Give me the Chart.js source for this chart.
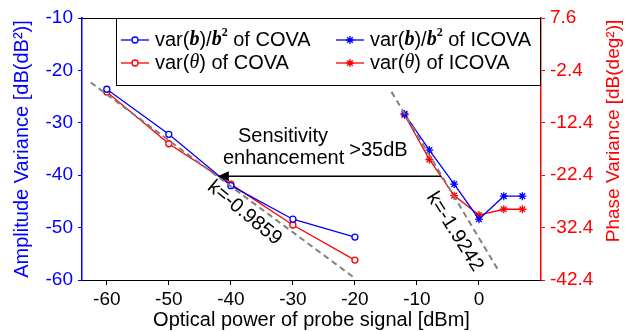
<!DOCTYPE html>
<html>
<head>
<meta charset="utf-8">
<script src="https://cdn.jsdelivr.net/npm/chart.js@4"></script>
<style>
  html, body { margin: 0; padding: 0; background: #fff; }
</style>
</head>
<body>
<canvas id="c" width="625" height="332"></canvas>
<script>
// data
const covaX = [-60, -50, -40, -30, -20];
const covaAmp = [-23.6, -32.2, -42.0, -48.4, -51.8];
const covaPhase = [-6.5, -16.4, -24.1, -31.9, -38.6];
const icovaX = [-12, -8, -4, 0, 4, 7];
const icovaAmp = [-28.3, -35.2, -41.7, -48.4, -44.0, -44.0];
const icovaPhase = [-10.9, -19.4, -26.3, -30.0, -28.9, -28.9];
const fit1X = [-62.6, -20.3];
const fit1Y = [-22.3, -59.4];
const fit2X = [-14.1, 3.1];
const fit2Y = [-24.1, -58.1];
const xTicks = [-60, -50, -40, -30, -20, -10, 0];
const ampTicks = [-10, -20, -30, -40, -50, -60];
const phaseTicks = [7.6, -2.4, -12.4, -22.4, -32.4, -42.4];

const BLUE = '#0000ff';
const RED = '#ff0000';
const SANS = 'Liberation Sans, Arial, sans-serif';
const SERIF = 'Liberation Serif, Times New Roman, serif';
const FS = 20;

const pts = (xs, ys) => xs.map((x, i) => ({ x: x, y: ys[i] }));

function setTicks(list) {
  return scale => { scale.ticks = list.map(v => ({ value: v })); };
}

// text with mixed fonts, left aligned, vertically centred on y
function drawRich(ctx, parts, x, y) {
  ctx.textBaseline = 'middle';
  ctx.textAlign = 'left';
  parts.forEach(p => {
    ctx.font = p.f;
    ctx.fillText(p.t, x, y + (p.dy || 0));
    x += ctx.measureText(p.t).width;
  });
}

const extras = {
  id: 'extras',
  afterDraw(chart) {
    const ctx = chart.ctx;
    const a = chart.chartArea;
    const sx = chart.scales.x, sy = chart.scales.y;
    ctx.save();

    // top frame line
    ctx.strokeStyle = '#000';
    ctx.lineWidth = 1;
    ctx.beginPath();
    ctx.moveTo(a.left, a.top + 0.5);
    ctx.lineTo(a.right, a.top + 0.5);
    ctx.stroke();

    // right axis title, reads bottom to top
    ctx.save();
    ctx.fillStyle = RED;
    ctx.font = '19px ' + SANS;
    ctx.textAlign = 'center';
    ctx.textBaseline = 'middle';
    ctx.translate(614, 131);
    ctx.rotate(-Math.PI / 2);
    ctx.fillText('Phase Variance [dB(deg²)]', 0, 0);
    ctx.restore();

    // arrow
    const ax1 = sx.getPixelForValue(-6.1);
    const ax2 = sx.getPixelForValue(-42.1);
    const ay = sy.getPixelForValue(-40.2);
    ctx.lineWidth = 1.5;
    ctx.beginPath();
    ctx.moveTo(ax1, ay);
    ctx.lineTo(ax2 + 10, ay);
    ctx.stroke();
    ctx.fillStyle = '#000';
    ctx.beginPath();
    ctx.moveTo(ax2, ay);
    ctx.lineTo(ax2 + 11, ay - 5);
    ctx.lineTo(ax2 + 11, ay + 5);
    ctx.closePath();
    ctx.fill();

    // annotation texts
    ctx.font = FS + 'px ' + SANS;
    ctx.textAlign = 'center';
    ctx.textBaseline = 'middle';
    ctx.fillText('Sensitivity', sx.getPixelForValue(-31.6), sy.getPixelForValue(-32.7));
    ctx.fillText('enhancement', sx.getPixelForValue(-31.5), sy.getPixelForValue(-36.9));
    ctx.fillText('>35dB', sx.getPixelForValue(-16.2), sy.getPixelForValue(-35.3));

    const rot = (t, x, y, deg) => {
      ctx.save();
      ctx.translate(sx.getPixelForValue(x), sy.getPixelForValue(y));
      ctx.rotate(deg * Math.PI / 180);
      ctx.fillText(t, 0, 0);
      ctx.restore();
    };
    rot('k=-0.9859', -37.8, -47.2, 39.6);
    rot('k=-1.9242', -3.9, -50.8, 57.8);

    // legend box
    const lx = 116, ly = a.top, lw = a.right - 116, lh = 67;
    ctx.strokeStyle = '#000';
    ctx.lineWidth = 1;
    ctx.strokeRect(lx + 0.5, ly + 0.5, lw - 1, lh);

    const sample = (x, y, color, style) => {
      ctx.strokeStyle = color;
      ctx.lineWidth = 1.3;
      ctx.beginPath();
      ctx.moveTo(x, y);
      ctx.lineTo(x + 28, y);
      ctx.stroke();
      Chart.helpers.drawPoint(ctx, {
        pointStyle: style, radius: style === 'star' ? 4 : 3, borderWidth: 1.3
      }, x + 14, y);
    };
    const f = FS + 'px ' + SANS;
    const fb = 'bold italic ' + FS + 'px ' + SERIF;
    const fs = 'bold 12px ' + SERIF;
    const ft = 'italic ' + FS + 'px ' + SERIF;
    const ampParts = (tail) => [
      { t: 'var(', f: f }, { t: 'b', f: fb }, { t: ')/', f: f },
      { t: 'b', f: fb }, { t: '2', f: fs, dy: -7 }, { t: ' of ' + tail, f: f }
    ];
    const phParts = (tail) => [
      { t: 'var(', f: f }, { t: 'θ', f: ft }, { t: ') of ' + tail, f: f }
    ];
    const rows = [40, 63];
    const cols = [121, 336];
    const entries = [
      [cols[0], rows[0], BLUE, 'circle', ampParts('COVA')],
      [cols[1], rows[0], BLUE, 'star', ampParts('ICOVA')],
      [cols[0], rows[1], RED, 'circle', phParts('COVA')],
      [cols[1], rows[1], RED, 'star', phParts('ICOVA')]
    ];
    entries.forEach(e => {
      ctx.fillStyle = '#fff';
      sample(e[0], e[1], e[2], e[3]);
      ctx.fillStyle = '#000';
      drawRich(ctx, e[4], e[0] + 34, e[1]);
    });
    ctx.restore();
  }
};

const lineDs = (label, data, color, style, axis) => ({
  label: label,
  data: data,
  yAxisID: axis,
  borderColor: color,
  backgroundColor: style === 'circle' ? '#fff' : color,
  borderWidth: 1.3,
  pointStyle: style,
  pointRadius: style === 'star' ? 4 : 3,
  pointBorderWidth: 1.3,
  pointBorderColor: color,
  fill: false,
  tension: 0
});

new Chart(document.getElementById('c'), {
  type: 'line',
  data: {
    datasets: [
      { label: 'fit1', data: pts(fit1X, fit1Y), yAxisID: 'y', borderColor: '#808080',
        borderDash: [6, 4], borderWidth: 2, pointRadius: 0, fill: false },
      { label: 'fit2', data: pts(fit2X, fit2Y), yAxisID: 'y', borderColor: '#808080',
        borderDash: [6, 4], borderWidth: 2, pointRadius: 0, fill: false },
      lineDs('var(b)/b2 of COVA', pts(covaX, covaAmp), BLUE, 'circle', 'y'),
      lineDs('var(θ) of COVA', pts(covaX, covaPhase), RED, 'circle', 'y2'),
      lineDs('var(b)/b2 of ICOVA', pts(icovaX, icovaAmp), BLUE, 'star', 'y'),
      lineDs('var(θ) of ICOVA', pts(icovaX, icovaPhase), RED, 'star', 'y2')
    ]
  },
  options: {
    responsive: false,
    animation: false,
    layout: { padding: { top: 18, left: 0, right: 0, bottom: 0 } },
    plugins: { legend: { display: false }, tooltip: { enabled: false } },
    scales: {
      x: {
        type: 'linear', min: -64, max: 10,
        afterBuildTicks: setTicks(xTicks),
        afterFit: s => { s.height = 52; },
        grid: { drawOnChartArea: false, drawTicks: true, tickLength: 5, tickColor: '#000' },
        border: { color: '#000', width: 1 },
        ticks: { color: '#000', font: { family: SANS, size: 19 }, padding: 3, maxRotation: 0 },
        title: { display: true, text: 'Optical power of probe signal [dBm]', color: '#000',
          font: { family: SANS, size: FS }, padding: { top: 0, bottom: 0 } }
      },
      y: {
        type: 'linear', position: 'left', min: -60, max: -10,
        afterBuildTicks: setTicks(ampTicks),
        afterFit: s => { s.width = 82; },
        grid: { drawOnChartArea: false, drawTicks: true, tickLength: 4, tickColor: BLUE },
        border: { color: BLUE, width: 1.5 },
        ticks: { color: BLUE, font: { family: SANS, size: 19 }, padding: 5 },
        title: { display: true, text: 'Amplitude Variance [dB(dB²)]', color: BLUE,
          font: { family: SANS, size: FS }, padding: { top: 10, bottom: 0 } }
      },
      y2: {
        type: 'linear', position: 'right', min: -42.4, max: 7.6,
        afterBuildTicks: setTicks(phaseTicks),
        afterFit: s => { s.width = 84; },
        grid: { drawOnChartArea: false, drawTicks: true, tickLength: 4, tickColor: RED },
        border: { color: RED, width: 1.5 },
        ticks: { color: RED, font: { family: SANS, size: 19 }, padding: 5,
          callback: v => v.toFixed(1) },
        title: { display: false }
      }
    }
  },
  plugins: [extras]
});
</script>
</body>
</html>
